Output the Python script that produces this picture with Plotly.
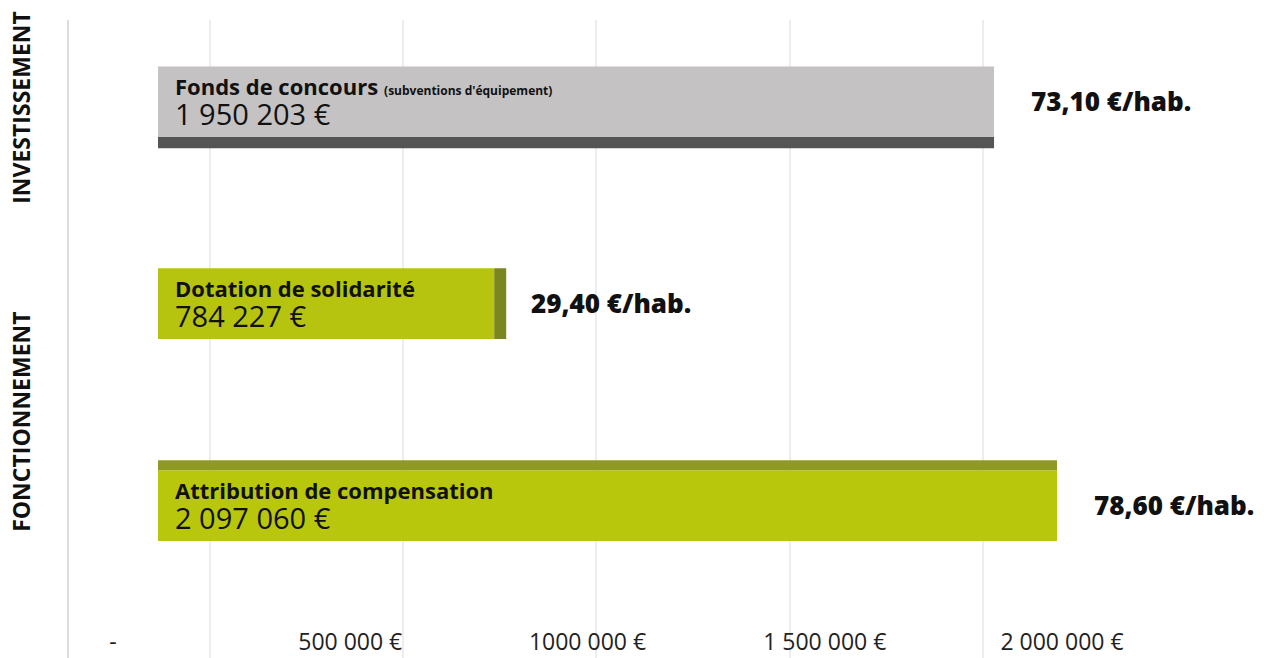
import plotly.graph_objects as go

# ---- data ----
categories = ["Attribution de compensation", "Dotation de solidarité", "Fonds de concours"]
sub_notes = ["", "", "(subventions d'équipement)"]
amounts = [2097060, 784227, 1950203]
amount_labels = ["2 097 060 €", "784 227 €", "1 950 203 €"]
per_hab = ["78,60 €/hab.", "29,40 €/hab.", "73,10 €/hab."]
groups = ["FONCTIONNEMENT", "INVESTISSEMENT"]
tick_values = [0, 500000, 1000000, 1500000, 2000000]
tick_labels = ["-", "500 000 €", "1000 000 €", "1 500 000 €", "2 000 000 €"]

# ---- style ----
pos = [0, 1, 2]
face_colors = ["#b8c60c", "#b6c40f", "#c4c2c2"]
W = 0.35
DEPTH = 28000
BOLD = "Open Sans"
REG = "Open Sans"

fig = go.Figure()

# main faces
fig.add_trace(go.Bar(
    x=amounts, y=pos, orientation="h", width=W,
    marker=dict(color=face_colors, line=dict(width=0)),
    hoverinfo="skip", showlegend=False))

# 3D details
fig.add_trace(go.Bar(
    x=[amounts[0]], y=[pos[0]], orientation="h", width=0.05, offset=W / 2,
    marker=dict(color="#8f9a24", line=dict(width=0)), hoverinfo="skip", showlegend=False))
fig.add_trace(go.Bar(
    x=[DEPTH], base=[amounts[1]], y=[pos[1]], orientation="h", width=W,
    marker=dict(color="#7b8620", line=dict(width=0)), hoverinfo="skip", showlegend=False))
fig.add_trace(go.Bar(
    x=[amounts[2]], y=[pos[2]], orientation="h", width=0.055, offset=-W / 2 - 0.055,
    marker=dict(color="#555555", line=dict(width=0)), hoverinfo="skip", showlegend=False))

# invisible trace to carry the labelled axis
fig.add_trace(go.Scatter(
    x=tick_values, y=[-0.7] * len(tick_values), xaxis="x2", yaxis="y",
    mode="markers", marker=dict(opacity=0), hoverinfo="skip", showlegend=False))

# faint background grid axis
fig.add_trace(go.Scatter(
    x=[1, 5], y=[-0.7, -0.7], xaxis="x3", yaxis="y",
    mode="markers", marker=dict(opacity=0), hoverinfo="skip", showlegend=False))

ann = []
for i in range(3):
    title = f"<span style='font-size:22px'><b>{categories[i]}</b></span>"
    if sub_notes[i]:
        title += f" <b><span style='font-size:12px'>{sub_notes[i]}</span></b>"
    text = f"{title}<br><span style='font-size:29px'>{amount_labels[i]}</span>"
    ann.append(dict(x=0, y=pos[i], xref="x", yref="y", xanchor="left", yanchor="middle",
                    align="left", xshift=15, yshift=0, text=text, showarrow=False,
                    font=dict(family=BOLD, size=23, color="#111111")))
    ann.append(dict(x=amounts[i], y=pos[i], xref="x", yref="y", xanchor="left", yanchor="middle",
                    xshift=35, yshift=1, text=per_hab[i], showarrow=False,
                    font=dict(family=BOLD, size=26, color="#111111", weight=800)))

ann.append(dict(x=0, xref="paper", xshift=-48, y=2, yref="y", yshift=-6,
                text=f"<b>{groups[1]}</b>", textangle=-90, showarrow=False,
                xanchor="center", yanchor="middle",
                font=dict(family=BOLD, size=23, color="#111111")))
ann.append(dict(x=0, xref="paper", xshift=-48, y=0.4, yref="y", yshift=3,
                text=f"<b>{groups[0]}</b>", textangle=-90, showarrow=False,
                xanchor="center", yanchor="middle",
                font=dict(family=BOLD, size=23, color="#111111")))

fig.update_layout(
    width=1274, height=658,
    margin=dict(l=69, r=0, t=20, b=0),
    paper_bgcolor="white", plot_bgcolor="white",
    barmode="overlay",
    showlegend=False,
    xaxis=dict(range=[-207605, 2603218], showgrid=False, zeroline=False,
               showticklabels=False, showline=False, fixedrange=True),
    xaxis2=dict(range=[-92729, 2446786], overlaying="x", side="bottom", anchor="y",
                tickvals=tick_values, ticktext=tick_labels, ticklabelposition="inside",
                ticks="", showgrid=False, zeroline=False, showline=False,
                tickfont=dict(family=REG, size=23, color="#222222")),
    xaxis3=dict(range=[0.2704, 6.5059], overlaying="x", side="top", anchor="y",
                tickvals=[1, 2, 3, 4, 5], showticklabels=False, ticks="",
                showgrid=True, gridcolor="#ededed", gridwidth=1.5, zeroline=False),
    yaxis=dict(range=[-0.755, 2.405], showgrid=False, zeroline=False,
               showticklabels=False, showline=True, linecolor="#dcdcdc", linewidth=2,
               ticks=""),
    annotations=ann,
)

fig.write_html("out.html", config={"displayModeBar": False},
               post_script="document.body.style.margin='0px';")
